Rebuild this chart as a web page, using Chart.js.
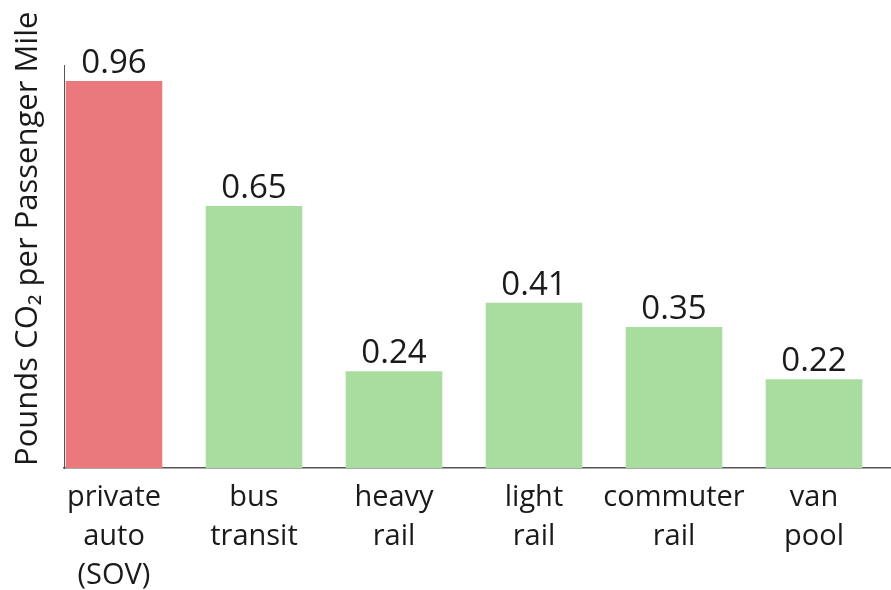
<!DOCTYPE html>
<html>
<head>
<meta charset="utf-8">
<script src="https://cdn.jsdelivr.net/npm/chart.js@4.4.0/dist/chart.umd.min.js"></script>
<style>
  html, body { margin: 0; padding: 0; background: #fff; }
  #wrap { width: 891px; height: 590px; }
</style>
</head>
<body>
<div id="wrap"><canvas id="co2Chart" width="891" height="590"></canvas></div>
<script>
// Modes of travel and their emissions
const categories = [
    ['private', 'auto', '(SOV)'],
    ['bus', 'transit'],
    ['heavy', 'rail'],
    ['light', 'rail'],
    ['commuter', 'rail'],
    ['van', 'pool']
];
const poundsPerMile = [0.96, 0.65, 0.24, 0.41, 0.35, 0.22];
const barColors = ['#e9797c', '#a9dc9f', '#a9dc9f', '#a9dc9f', '#a9dc9f', '#a9dc9f'];
const yTitle = 'Pounds CO\u2082 per Passenger Mile';

const FONT = '"Open Sans", "DejaVu Sans", sans-serif';

// Draws the number on top of each bar
const valueLabels = {
    id: 'valueLabels',
    afterDatasetsDraw(chart) {
        const ctx = chart.ctx;
        const meta = chart.getDatasetMeta(0);
        ctx.save();
        ctx.font = '33px ' + FONT;
        ctx.fillStyle = '#1a1a1a';
        ctx.textAlign = 'center';
        ctx.textBaseline = 'alphabetic';
        meta.data.forEach((bar, i) => {
            ctx.fillText(poundsPerMile[i].toFixed(2), bar.x, bar.y - 8);
        });
        ctx.restore();
    }
};

// Rotated axis title, placed like the original (runs above the plot area)
const axisTitle = {
    id: 'axisTitle',
    afterDraw(chart) {
        const ctx = chart.ctx;
        ctx.save();
        ctx.translate(28, 466);
        ctx.rotate(-Math.PI / 2);
        ctx.font = '31px ' + FONT;
        ctx.fillStyle = '#1a1a1a';
        ctx.textAlign = 'left';
        ctx.textBaseline = 'middle';
        ctx.fillText(yTitle, 0, 0);
        ctx.restore();
    }
};

new Chart(document.getElementById('co2Chart'), {
    type: 'bar',
    data: {
        datasets: [{
            data: poundsPerMile.map((v, i) => ({ x: i, y: v })),
            backgroundColor: barColors,
            borderWidth: 0,
            barPercentage: 0.69,
            categoryPercentage: 1
        }]
    },
    options: {
        responsive: false,
        animation: false,
        layout: { padding: { top: 65, left: 0, right: 0, bottom: 0 } },
        plugins: { legend: { display: false }, tooltip: { enabled: false } },
        scales: {
            x: {
                type: 'linear',
                offset: false,
                min: -0.357,
                max: 5.55,
                afterBuildTicks: scale => {
                    scale.ticks = categories.map((_, i) => ({ value: i }));
                },
                afterFit: scale => { scale.height = 122; },
                ticks: {
                    callback: v => categories[v],
                    color: '#1a1a1a',
                    font: { family: FONT, size: 29, lineHeight: 1.35 },
                    padding: 10,
                    maxRotation: 0,
                    autoSkip: false
                },
                grid: { display: false, drawTicks: false },
                border: { display: true, color: '#555', width: 1.5 }
            },
            y: {
                min: 0,
                max: 1.0,
                afterFit: scale => { scale.width = 64; },
                ticks: { display: false },
                grid: { display: false, drawTicks: false },
                border: { display: true, color: '#555', width: 1 }
            }
        }
    },
    plugins: [valueLabels, axisTitle]
});
</script>
</body>
</html>
